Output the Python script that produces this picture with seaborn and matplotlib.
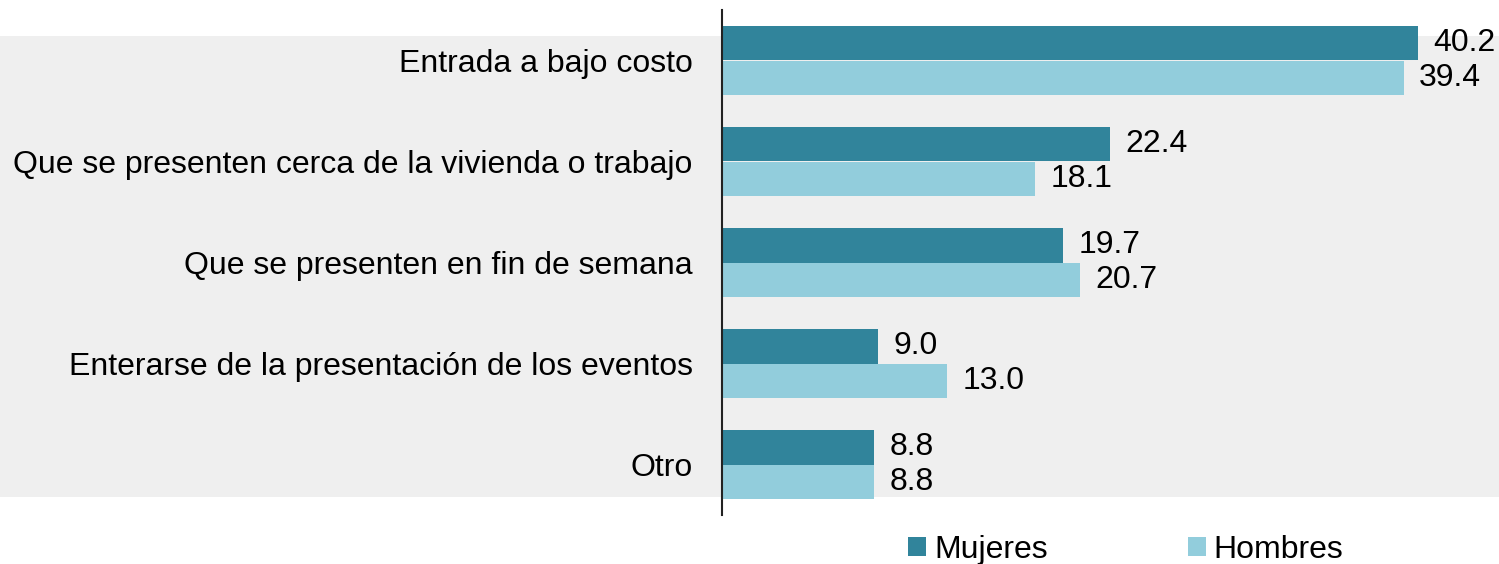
import numpy as np
import pandas as pd
import matplotlib
matplotlib.use("Agg")
import matplotlib.pyplot as plt
import matplotlib.patches as patches
import seaborn as sns

categorias = [
    "Entrada a bajo costo",
    "Que se presenten cerca de la vivienda o trabajo",
    "Que se presenten en fin de semana",
    "Enterarse de la presentación de los eventos",
    "Otro",
]
mujeres = [40.2, 22.4, 19.7, 9.0, 8.8]
hombres = [39.4, 18.1, 20.7, 13.0, 8.8]
series = ["Mujeres", "Hombres"]
colores = ["#31849B", "#92CDDC"]

df = pd.DataFrame({
    "categoria": categorias * 2,
    "valor": mujeres + hombres,
    "sexo": [series[0]] * len(categorias) + [series[1]] * len(categorias),
})

sns.set_style("white")
plt.rcParams["font.family"] = ["Liberation Sans", "DejaVu Sans"]
plt.rcParams["text.color"] = "black"

fig = plt.figure(figsize=(14.99, 5.64), dpi=100)

# gray band behind the whole chart (its own axes, below the data axes)
bg = fig.add_axes([0, 0, 1, 1], zorder=0)
bg.set_axis_off()
bg.add_patch(patches.Rectangle((0, 67 / 564), 1, 461 / 564, transform=bg.transAxes,
                               facecolor="#EFEFEF", edgecolor="none"))

ax = fig.add_axes([722 / 1499, 49 / 564, 777 / 1499, 505 / 564], zorder=1)
ax.set_facecolor("none")
sns.barplot(data=df, y="categoria", x="valor", hue="sexo", palette=colores, orient="h",
            width=0.69, saturation=1, ax=ax, legend=False, edgecolor="none")

for cont in ax.containers:
    ax.bar_label(cont, fmt="%.1f", padding=11, fontsize=23, color="black")

ax.set_xlim(0, 44.9)
ax.set_ylim(4.5, -0.5)
ax.set_xlabel("")
ax.set_ylabel("")
ax.set_xticks([])
ax.tick_params(axis="y", length=0, pad=21, labelsize=23, labelcolor="black")
for s in ["top", "right", "bottom"]:
    ax.spines[s].set_visible(False)
ax.spines["left"].set_color("#222222")
ax.spines["left"].set_linewidth(1.5)

handles = [patches.Patch(facecolor=c, edgecolor="none", label=s) for c, s in zip(colores, series)]
fig.legend(handles=handles, loc="center", bbox_to_anchor=(1126 / 1499, 14 / 564), ncol=2,
           frameon=False, fontsize=23, handlelength=0.55, handleheight=0.55,
           handletextpad=0.25, columnspacing=4.4, borderpad=0)

fig.savefig("out.png", dpi=100)
